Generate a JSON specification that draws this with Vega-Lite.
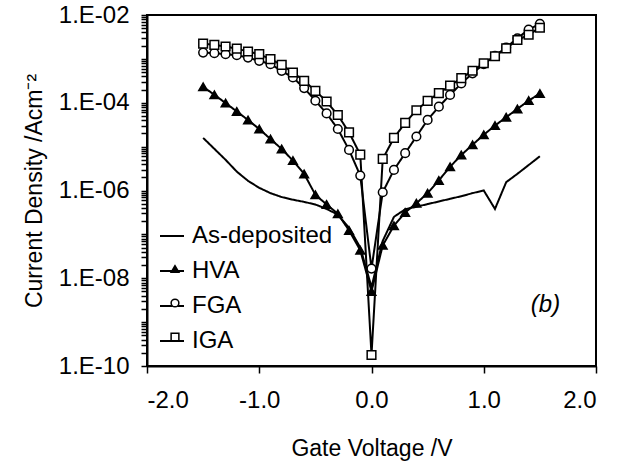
{
  "$schema": "https://vega.github.io/schema/vega-lite/v6.json",
  "width": 449,
  "height": 351,
  "autosize": {"type": "none"},
  "padding": {"left": 147, "top": 15, "right": 26, "bottom": 100},
  "config": {
    "font": "Liberation Sans",
    "view": {"stroke": "black", "strokeWidth": 2},
    "axis": {
      "grid": false,
      "domainColor": "black",
      "domainWidth": 2,
      "tickColor": "black",
      "tickWidth": 1.5,
      "labelColor": "black",
      "labelFont": "Liberation Sans",
      "labelFontSize": 24,
      "titleColor": "black",
      "titleFont": "Liberation Sans",
      "titleFontSize": 23,
      "titleFontWeight": "normal"
    }
  },
  "datasets": {
    "iv": [
      {"series": "As-deposited", "v": -1.5, "j": 1.58e-5},
      {"series": "As-deposited", "v": -1.4, "j": 8.91e-6},
      {"series": "As-deposited", "v": -1.3, "j": 5.01e-6},
      {"series": "As-deposited", "v": -1.2, "j": 2.69e-6},
      {"series": "As-deposited", "v": -1.1, "j": 1.66e-6},
      {"series": "As-deposited", "v": -1.0, "j": 1.15e-6},
      {"series": "As-deposited", "v": -0.9, "j": 8.71e-7},
      {"series": "As-deposited", "v": -0.8, "j": 7.08e-7},
      {"series": "As-deposited", "v": -0.7, "j": 6.17e-7},
      {"series": "As-deposited", "v": -0.6, "j": 5.5e-7},
      {"series": "As-deposited", "v": -0.5, "j": 4.79e-7},
      {"series": "As-deposited", "v": -0.4, "j": 3.8e-7},
      {"series": "As-deposited", "v": -0.3, "j": 2.82e-7},
      {"series": "As-deposited", "v": -0.2, "j": 1.41e-7},
      {"series": "As-deposited", "v": -0.1, "j": 5.01e-8},
      {"series": "As-deposited", "v": 0.0, "j": 6.3e-9},
      {"series": "As-deposited", "v": 0.1, "j": 7.08e-8},
      {"series": "As-deposited", "v": 0.2, "j": 2.51e-7},
      {"series": "As-deposited", "v": 0.3, "j": 3.72e-7},
      {"series": "As-deposited", "v": 0.4, "j": 4.27e-7},
      {"series": "As-deposited", "v": 0.5, "j": 4.9e-7},
      {"series": "As-deposited", "v": 0.6, "j": 5.62e-7},
      {"series": "As-deposited", "v": 0.7, "j": 6.46e-7},
      {"series": "As-deposited", "v": 0.8, "j": 7.41e-7},
      {"series": "As-deposited", "v": 0.9, "j": 8.71e-7},
      {"series": "As-deposited", "v": 1.0, "j": 1.0e-6},
      {"series": "As-deposited", "v": 1.1, "j": 3.8e-7},
      {"series": "As-deposited", "v": 1.2, "j": 1.55e-6},
      {"series": "As-deposited", "v": 1.3, "j": 2.4e-6},
      {"series": "As-deposited", "v": 1.4, "j": 3.8e-6},
      {"series": "As-deposited", "v": 1.5, "j": 6.03e-6},

      {"series": "HVA", "v": -1.5, "j": 2.31e-4},
      {"series": "HVA", "v": -1.4, "j": 1.52e-4},
      {"series": "HVA", "v": -1.3, "j": 9.84e-5},
      {"series": "HVA", "v": -1.2, "j": 6.35e-5},
      {"series": "HVA", "v": -1.1, "j": 4.04e-5},
      {"series": "HVA", "v": -1.0, "j": 2.52e-5},
      {"series": "HVA", "v": -0.9, "j": 1.49e-5},
      {"series": "HVA", "v": -0.8, "j": 8.85e-6},
      {"series": "HVA", "v": -0.7, "j": 4.81e-6},
      {"series": "HVA", "v": -0.6, "j": 2.39e-6},
      {"series": "HVA", "v": -0.5, "j": 7.98e-7},
      {"series": "HVA", "v": -0.4, "j": 4.81e-7},
      {"series": "HVA", "v": -0.3, "j": 2.95e-7},
      {"series": "HVA", "v": -0.2, "j": 1.23e-7},
      {"series": "HVA", "v": -0.1, "j": 4.37e-8},
      {"series": "HVA", "v": 0.0, "j": 5.0e-9},
      {"series": "HVA", "v": 0.1, "j": 5.62e-8},
      {"series": "HVA", "v": 0.2, "j": 1.58e-7},
      {"series": "HVA", "v": 0.3, "j": 3.16e-7},
      {"series": "HVA", "v": 0.4, "j": 5.13e-7},
      {"series": "HVA", "v": 0.5, "j": 8.71e-7},
      {"series": "HVA", "v": 0.6, "j": 1.7e-6},
      {"series": "HVA", "v": 0.7, "j": 3.47e-6},
      {"series": "HVA", "v": 0.8, "j": 6.46e-6},
      {"series": "HVA", "v": 0.9, "j": 1.1e-5},
      {"series": "HVA", "v": 1.0, "j": 1.86e-5},
      {"series": "HVA", "v": 1.1, "j": 3.02e-5},
      {"series": "HVA", "v": 1.2, "j": 4.68e-5},
      {"series": "HVA", "v": 1.3, "j": 7.24e-5},
      {"series": "HVA", "v": 1.4, "j": 1.12e-4},
      {"series": "HVA", "v": 1.5, "j": 1.62e-4},

      {"series": "FGA", "v": -1.5, "j": 1.39e-3},
      {"series": "FGA", "v": -1.4, "j": 1.35e-3},
      {"series": "FGA", "v": -1.3, "j": 1.28e-3},
      {"series": "FGA", "v": -1.2, "j": 1.21e-3},
      {"series": "FGA", "v": -1.1, "j": 1.07e-3},
      {"series": "FGA", "v": -1.0, "j": 9.02e-4},
      {"series": "FGA", "v": -0.9, "j": 7.59e-4},
      {"series": "FGA", "v": -0.8, "j": 5.33e-4},
      {"series": "FGA", "v": -0.7, "j": 3.76e-4},
      {"series": "FGA", "v": -0.6, "j": 2.16e-4},
      {"series": "FGA", "v": -0.5, "j": 1.11e-4},
      {"series": "FGA", "v": -0.4, "j": 5.71e-5},
      {"series": "FGA", "v": -0.3, "j": 2.52e-5},
      {"series": "FGA", "v": -0.2, "j": 8.41e-6},
      {"series": "FGA", "v": -0.1, "j": 2.19e-6},
      {"series": "FGA", "v": 0.0, "j": 1.66e-8},
      {"series": "FGA", "v": 0.1, "j": 9.12e-7},
      {"series": "FGA", "v": 0.2, "j": 2.95e-6},
      {"series": "FGA", "v": 0.3, "j": 7.08e-6},
      {"series": "FGA", "v": 0.4, "j": 1.7e-5},
      {"series": "FGA", "v": 0.5, "j": 4.07e-5},
      {"series": "FGA", "v": 0.6, "j": 8.13e-5},
      {"series": "FGA", "v": 0.7, "j": 1.51e-4},
      {"series": "FGA", "v": 0.8, "j": 2.75e-4},
      {"series": "FGA", "v": 0.9, "j": 4.68e-4},
      {"series": "FGA", "v": 1.0, "j": 7.59e-4},
      {"series": "FGA", "v": 1.1, "j": 1.17e-3},
      {"series": "FGA", "v": 1.2, "j": 1.82e-3},
      {"series": "FGA", "v": 1.3, "j": 2.95e-3},
      {"series": "FGA", "v": 1.4, "j": 4.68e-3},
      {"series": "FGA", "v": 1.5, "j": 6.31e-3},

      {"series": "IGA", "v": -1.5, "j": 2.23e-3},
      {"series": "IGA", "v": -1.4, "j": 2.08e-3},
      {"series": "IGA", "v": -1.3, "j": 1.91e-3},
      {"series": "IGA", "v": -1.2, "j": 1.71e-3},
      {"series": "IGA", "v": -1.1, "j": 1.47e-3},
      {"series": "IGA", "v": -1.0, "j": 1.28e-3},
      {"series": "IGA", "v": -0.9, "j": 9.84e-4},
      {"series": "IGA", "v": -0.8, "j": 7.31e-4},
      {"series": "IGA", "v": -0.7, "j": 4.89e-4},
      {"series": "IGA", "v": -0.6, "j": 3.16e-4},
      {"series": "IGA", "v": -0.5, "j": 1.87e-4},
      {"series": "IGA", "v": -0.4, "j": 1.07e-4},
      {"series": "IGA", "v": -0.3, "j": 5.25e-5},
      {"series": "IGA", "v": -0.2, "j": 2.11e-5},
      {"series": "IGA", "v": -0.1, "j": 6.58e-6},
      {"series": "IGA", "v": 0.0, "j": 1.78e-10},
      {"series": "IGA", "v": 0.1, "j": 5.25e-6},
      {"series": "IGA", "v": 0.2, "j": 1.58e-5},
      {"series": "IGA", "v": 0.3, "j": 3.47e-5},
      {"series": "IGA", "v": 0.4, "j": 6.76e-5},
      {"series": "IGA", "v": 0.5, "j": 1.1e-4},
      {"series": "IGA", "v": 0.6, "j": 1.66e-4},
      {"series": "IGA", "v": 0.7, "j": 2.45e-4},
      {"series": "IGA", "v": 0.8, "j": 3.63e-4},
      {"series": "IGA", "v": 0.9, "j": 5.37e-4},
      {"series": "IGA", "v": 1.0, "j": 7.94e-4},
      {"series": "IGA", "v": 1.1, "j": 1.15e-3},
      {"series": "IGA", "v": 1.2, "j": 1.74e-3},
      {"series": "IGA", "v": 1.3, "j": 2.69e-3},
      {"series": "IGA", "v": 1.4, "j": 3.55e-3},
      {"series": "IGA", "v": 1.5, "j": 5.13e-3}
    ],
    "ann": [
      {"v": 1.55, "j": 2.5e-9, "label": "(b)"}
    ]
  },
  "layer": [
    {
      "data": {"name": "iv"},
      "mark": {"type": "line", "color": "black", "strokeWidth": 2},
      "encoding": {
        "x": {
          "field": "v", "type": "quantitative",
          "scale": {"domain": [-2, 2], "nice": false, "zero": false},
          "axis": {
            "title": "Gate Voltage /V",
            "values": [-2, -1, 0, 1, 2],
            "labelExpr": "(datum.value < 0 ? '-' : '') + format(abs(datum.value), '.1f')",
            "tickSize": 7,
            "labelPadding": 15,
            "titlePadding": 25
          }
        },
        "y": {
          "field": "j", "type": "quantitative",
          "scale": {"type": "log", "domain": [1e-10, 1e-2], "nice": false},
          "axis": {
            "title": "Current Density /Acm⁻²",
            "values": [1e-10, 2e-10, 3e-10, 4e-10, 5e-10, 6e-10, 7e-10, 8e-10, 9e-10,
                       1e-9, 2e-9, 3e-9, 4e-9, 5e-9, 6e-9, 7e-9, 8e-9, 9e-9,
                       1e-8, 2e-8, 3e-8, 4e-8, 5e-8, 6e-8, 7e-8, 8e-8, 9e-8,
                       1e-7, 2e-7, 3e-7, 4e-7, 5e-7, 6e-7, 7e-7, 8e-7, 9e-7,
                       1e-6, 2e-6, 3e-6, 4e-6, 5e-6, 6e-6, 7e-6, 8e-6, 9e-6,
                       1e-5, 2e-5, 3e-5, 4e-5, 5e-5, 6e-5, 7e-5, 8e-5, 9e-5,
                       1e-4, 2e-4, 3e-4, 4e-4, 5e-4, 6e-4, 7e-4, 8e-4, 9e-4,
                       1e-3, 2e-3, 3e-3, 4e-3, 5e-3, 6e-3, 7e-3, 8e-3, 9e-3, 1e-2],
            "labelExpr": "abs(log(datum.value)/LN10 - round(log(datum.value)/LN10)) < 0.001 && round(log(datum.value)/LN10) % 2 == 0 ? '1.E-' + (round(log(datum.value)/LN10) > -10 ? '0' : '') + (-round(log(datum.value)/LN10)) : ''",
            "labelOverlap": false,
            "tickSize": 6,
            "labelPadding": 12,
            "titlePadding": 12
          }
        },
        "strokeDash": {
          "field": "series", "type": "nominal",
          "scale": {"domain": ["As-deposited", "HVA", "FGA", "IGA"], "range": [[1, 0], [1, 0], [1, 0], [1, 0]]},
          "legend": {
            "title": null,
            "orient": "none",
            "legendX": 12,
            "legendY": 208,
            "padding": 0,
            "symbolType": "stroke",
            "symbolSize": 576,
            "symbolStrokeWidth": 2,
            "symbolStrokeColor": "black",
            "symbolOpacity": 1,
            "labelFont": "Liberation Sans",
            "labelFontSize": 24,
            "labelColor": "black",
            "labelOffset": 7,
            "rowPadding": 10
          }
        }
      }
    },
    {
      "data": {"name": "iv"},
      "transform": [{"filter": "datum.series !== 'As-deposited'"}],
      "mark": {"type": "point", "filled": true, "strokeWidth": 1.5, "size": 75, "opacity": 1},
      "encoding": {
        "x": {"field": "v", "type": "quantitative"},
        "y": {"field": "j", "type": "quantitative"},
        "shape": {
          "field": "series", "type": "nominal",
          "scale": {"domain": ["As-deposited", "HVA", "FGA", "IGA", "~"], "range": ["M0,0L0,0", "triangle-up", "circle", "square", "M0,0L0,0"]},
          "legend": {
            "title": null,
            "orient": "none",
            "legendX": 16,
            "legendY": 208,
            "padding": 0,
            "symbolSize": 60,
            "symbolStrokeWidth": 1.5,
            "symbolOpacity": 1,
            "labelFont": "Liberation Sans",
            "labelFontSize": 24,
            "labelExpr": "''",
            "labelOffset": 7,
            "rowPadding": 10
          }
        },
        "fill": {
          "field": "series", "type": "nominal",
          "scale": {"domain": ["As-deposited", "HVA", "FGA", "IGA", "~"], "range": ["transparent", "black", "white", "white", "transparent"]},
          "legend": {
            "title": null,
            "orient": "none",
            "legendX": 16,
            "legendY": 208,
            "padding": 0,
            "labelExpr": "''"
          }
        },
        "stroke": {
          "field": "series", "type": "nominal",
          "scale": {"domain": ["As-deposited", "HVA", "FGA", "IGA", "~"], "range": ["transparent", "black", "black", "black", "transparent"]},
          "legend": {
            "title": null,
            "orient": "none",
            "legendX": 16,
            "legendY": 208,
            "padding": 0,
            "labelExpr": "''"
          }
        }
      }
    },
    {
      "data": {"name": "ann"},
      "mark": {"type": "text", "font": "Liberation Sans", "fontStyle": "italic", "fontSize": 24, "color": "black"},
      "encoding": {
        "x": {"field": "v", "type": "quantitative"},
        "y": {"field": "j", "type": "quantitative"},
        "text": {"field": "label"}
      }
    }
  ]
}
